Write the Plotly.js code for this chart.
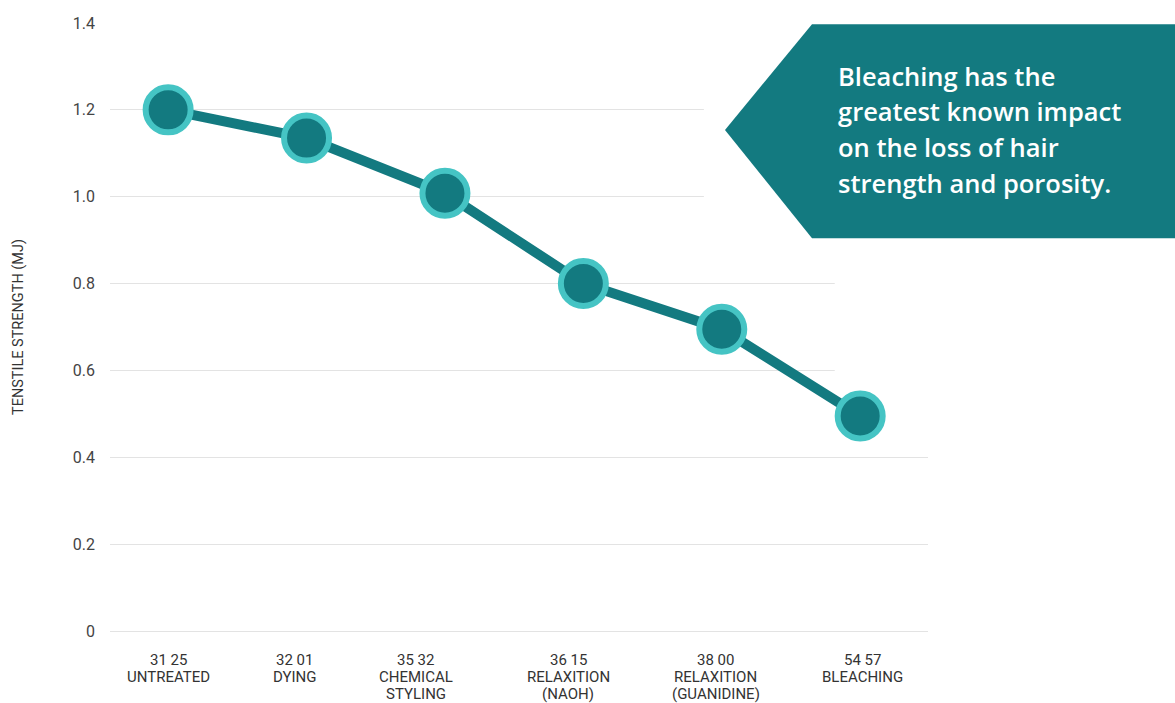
<!DOCTYPE html>
<html>
<head>
<meta charset="utf-8">
<script src="https://cdn.plot.ly/plotly-3.0.1.min.js"></script>
<style>html,body{margin:0;padding:0;background:#fff;}#chart{width:1175px;height:703px;}</style>
</head>
<body>
<div id="chart"></div>
<script>
const categories = ['UNTREATED', 'DYING', 'CHEMICAL STYLING', 'RELAXITION (NAOH)', 'RELAXITION (GUANIDINE)', 'BLEACHING'];
const tickLabels = ['31 25<br>UNTREATED', '32 01<br>DYING', '35 32<br>CHEMICAL<br>STYLING', '36 15<br>RELAXITION<br>(NAOH)', '38 00<br>RELAXITION<br>(GUANIDINE)', '54 57<br>BLEACHING'];
const strength = [1.2, 1.135, 1.008, 0.8, 0.695, 0.495];
const yTickVals = [0, 0.2, 0.4, 0.6, 0.8, 1.0, 1.2, 1.4];
const yTickText = ['0', '0.2', '0.4', '0.6', '0.8', '1.0', '1.2', '1.4'];
const calloutLines = ['Bleaching has the', 'greatest known impact', 'on the loss of hair', 'strength and porosity.'];

// styling: horizontal nudges of the category labels (px), as in the original layout
const labelShift = [0, -12, -29, -15, -6, 2];

const trace = {
  x: categories,
  y: strength,
  type: 'scatter',
  mode: 'lines+markers',
  line: {color: '#137a80', width: 10},
  marker: {size: 45, color: '#137a80', line: {color: '#45c4c4', width: 6}},
  hoverinfo: 'skip',
  cliponaxis: false
};

const toPaperY = p => (631 - p) / 608;  // plot area spans 23..631 px
const calloutY = [76, 111, 147, 183].map(toPaperY);
const labelLineY = [660, 677, 694].map(toPaperY);

const annotations = calloutLines.map((t, i) => ({
  xref: 'paper', yref: 'paper', x: 0.887, y: calloutY[i], xanchor: 'left', yanchor: 'middle', align: 'left',
  text: t, showarrow: false,
  font: {family: '"Open Sans", sans-serif', size: 25.5, color: '#ffffff', weight: 600}
}));

tickLabels.forEach((lab, ci) => {
  lab.split('<br>').forEach((line, li) => {
    annotations.push({
      xref: 'x', yref: 'paper', x: categories[ci], y: labelLineY[li], xshift: labelShift[ci],
      xanchor: 'center', yanchor: 'middle', text: line, showarrow: false,
      font: {family: 'Roboto, sans-serif', size: 15, color: '#333333'}
    });
  });
});

const layout = {
  width: 1175, height: 703,
  margin: {l: 110, r: 247, t: 23, b: 72},
  paper_bgcolor: '#ffffff', plot_bgcolor: '#ffffff',
  showlegend: false,
  font: {family: 'Roboto, sans-serif', color: '#333333'},
  xaxis: {
    type: 'category',
    range: [-0.42, 5.49],
    showticklabels: false,
    showgrid: false, zeroline: false, showline: false, ticks: '',
    fixedrange: true
  },
  yaxis: {
    range: [0, 1.4],
    tickvals: yTickVals, ticktext: yTickText,
    showgrid: true, gridcolor: '#e3e3e3', gridwidth: 1,
    zeroline: true, zerolinecolor: '#e3e3e3', zerolinewidth: 1,
    showline: false, ticks: '',
    tickfont: {size: 16, color: '#444444', family: 'Roboto, sans-serif'},
    ticklabelstandoff: 14,
    title: {text: 'TENSTILE STRENGTH (MJ)', font: {size: 14.5, color: '#333333', family: 'Roboto, sans-serif'}, standoff: 45},
    fixedrange: true
  },
  shapes: [
    {type: 'rect', layer: 'above', xref: 'paper', yref: 'y', x0: 0.726, x1: 1.01, y0: 0.9, y1: 1.45, fillcolor: '#ffffff', line: {width: 0}},
    {type: 'rect', layer: 'above', xref: 'paper', yref: 'y', x0: 0.886, x1: 1.01, y0: 0.58, y1: 0.9, fillcolor: '#ffffff', line: {width: 0}},
    {type: 'path', layer: 'above', xref: 'paper', yref: 'paper',
     path: 'M 0.7518 0.824 L 0.8582 0.998 L 1.35 0.998 L 1.35 0.646 L 0.8582 0.646 Z',
     fillcolor: '#137a80', line: {width: 0}}
  ],
  annotations: annotations
};

Plotly.newPlot('chart', [trace], layout, {displayModeBar: false, staticPlot: true});
</script>
</body>
</html>
